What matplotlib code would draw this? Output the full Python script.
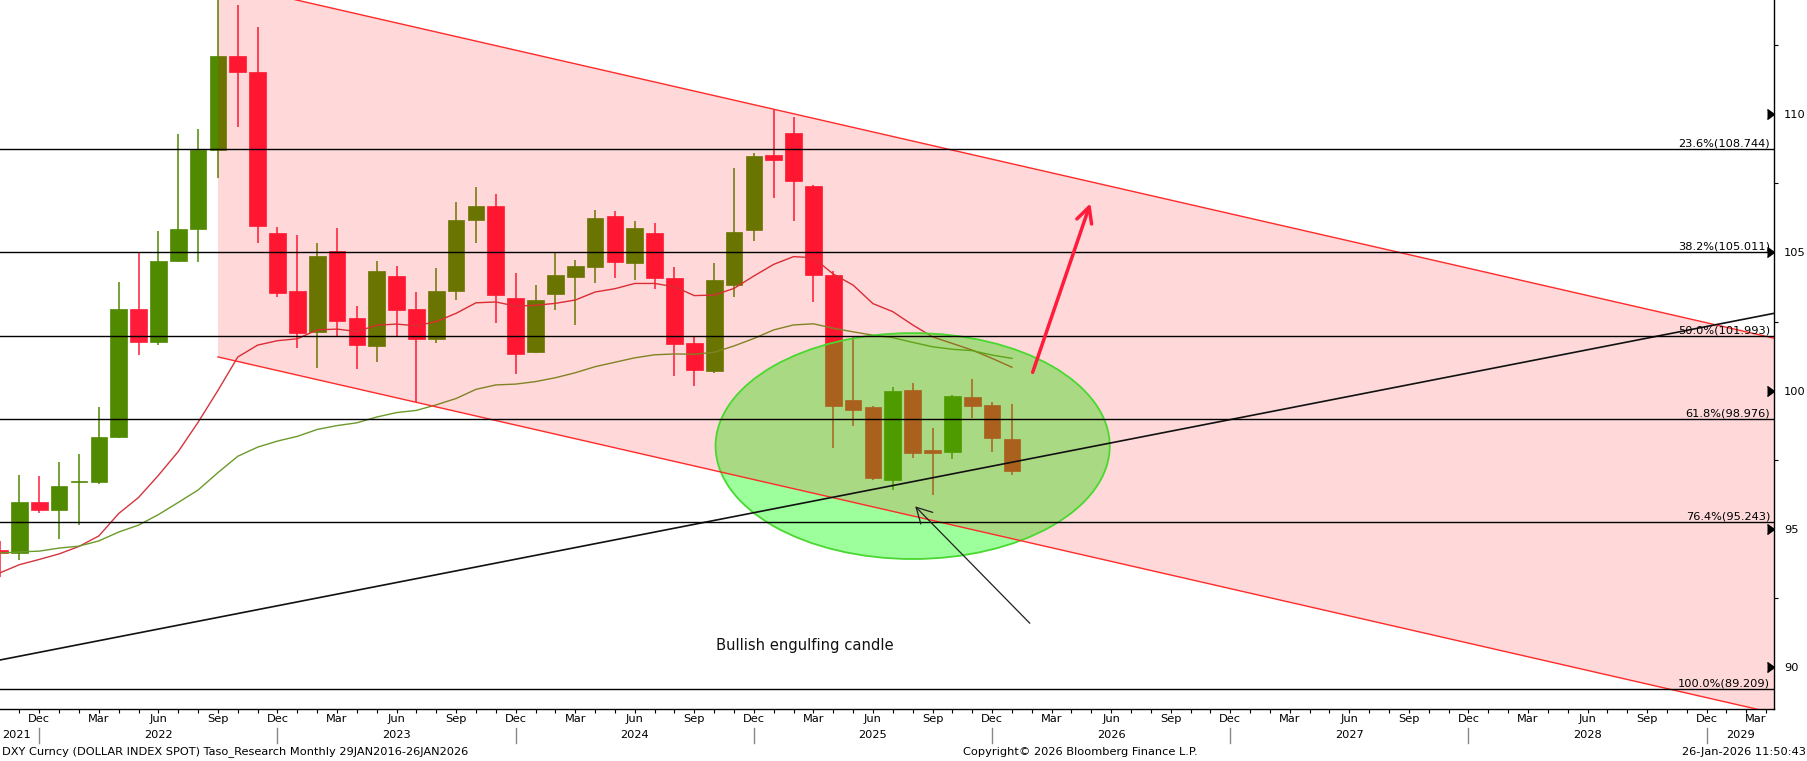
import matplotlib
matplotlib.use("Agg")
import matplotlib.pyplot as plt
from matplotlib import font_manager
from matplotlib.patches import Ellipse, Polygon
import numpy as np

# DXY monthly candles (Bloomberg), Oct 2021 - Jan 2026
months = ["2021-10", "2021-11", "2021-12",
          "2022-01", "2022-02", "2022-03", "2022-04", "2022-05", "2022-06",
          "2022-07", "2022-08", "2022-09", "2022-10", "2022-11", "2022-12",
          "2023-01", "2023-02", "2023-03", "2023-04", "2023-05", "2023-06",
          "2023-07", "2023-08", "2023-09", "2023-10", "2023-11", "2023-12",
          "2024-01", "2024-02", "2024-03", "2024-04", "2024-05", "2024-06",
          "2024-07", "2024-08", "2024-09", "2024-10", "2024-11", "2024-12",
          "2025-01", "2025-02", "2025-03", "2025-04", "2025-05", "2025-06",
          "2025-07", "2025-08", "2025-09", "2025-10", "2025-11", "2025-12",
          "2026-01"]
opens = [94.23, 94.12, 95.99,
         95.67, 96.70, 96.71, 98.31, 102.96, 101.76,
         104.69, 105.85, 108.70, 112.12, 111.53, 105.70,
         103.60, 102.12, 105.05, 102.63, 101.63, 104.15,
         102.95, 101.88, 103.62, 106.17, 106.68, 103.35,
         101.41, 103.50, 104.11, 104.47, 106.32, 104.62,
         105.70, 104.08, 101.72, 100.72, 103.82, 105.82,
         108.52, 109.33, 107.40, 104.18, 99.66, 99.41,
         96.78, 100.03, 97.86, 97.79, 99.76, 99.48,
         98.25]
highs = [94.56, 96.94, 96.91,
         97.44, 97.73, 99.42, 103.93, 105.01, 105.79,
         109.29, 109.48, 114.78, 113.95, 113.15, 105.92,
         105.63, 105.36, 105.88, 103.06, 104.70, 104.50,
         103.57, 104.44, 106.84, 107.35, 107.11, 104.26,
         103.82, 104.97, 104.73, 106.52, 106.49, 106.14,
         106.06, 104.47, 101.94, 104.63, 108.07, 108.58,
         110.18, 109.91, 107.45, 104.34, 101.98, 99.45,
         100.12, 100.27, 98.64, 99.84, 100.42, 99.59,
         99.52]
lows = [93.27, 93.87, 95.57,
        94.63, 95.14, 96.62, 98.28, 101.30, 101.64,
        104.64, 104.64, 107.68, 109.54, 105.34, 103.40,
        101.53, 100.82, 101.93, 100.79, 101.03, 101.93,
        99.58, 101.74, 103.27, 105.36, 102.46, 100.62,
        101.37, 102.92, 102.37, 103.91, 104.09, 104.00,
        103.67, 100.52, 100.16, 100.65, 103.40, 105.42,
        106.98, 106.15, 103.22, 97.94, 98.73, 96.78,
        96.42, 97.58, 96.24, 97.52, 99.02, 97.79,
        96.95]
closes = [94.12, 95.99, 95.67,
          96.54, 96.72, 98.31, 102.96, 101.76, 104.69,
          105.85, 108.70, 112.12, 111.53, 105.95, 103.52,
          102.10, 104.87, 102.51, 101.66, 104.33, 102.91,
          101.86, 103.62, 106.17, 106.68, 103.46, 101.34,
          103.28, 104.18, 104.51, 106.24, 104.65, 105.88,
          104.08, 101.70, 100.76, 104.00, 105.74, 108.49,
          108.34, 107.60, 104.18, 99.45, 99.30, 96.85,
          99.99, 97.76, 97.76, 99.81, 99.46, 98.30,
          97.11]
ma_fast = [93.41, 93.71, 93.90,
           94.10, 94.37, 94.75, 95.56, 96.14, 96.94,
           97.80, 98.86, 100.01, 101.22, 101.65, 101.81,
           101.88, 102.20, 102.23, 102.14, 102.37, 102.41,
           102.35, 102.50, 102.80, 103.18, 103.21, 103.06,
           103.09, 103.16, 103.28, 103.57, 103.69, 103.88,
           103.88, 103.76, 103.44, 103.46, 103.70, 104.15,
           104.57, 104.85, 104.81, 104.22, 103.82, 103.15,
           102.86, 102.38, 101.95, 101.71, 101.47, 101.17,
           100.85]
ma_slow = [94.13, 94.17, 94.20,
           94.31, 94.38, 94.57, 94.89, 95.14, 95.52,
           95.96, 96.41, 97.04, 97.63, 97.96, 98.18,
           98.35, 98.60, 98.74, 98.84, 99.05, 99.21,
           99.29, 99.49, 99.72, 100.05, 100.21, 100.24,
           100.33, 100.47, 100.65, 100.87, 101.03, 101.19,
           101.30, 101.33, 101.32, 101.39, 101.62, 101.89,
           102.20, 102.38, 102.42, 102.26, 102.13, 102.01,
           101.92, 101.75, 101.59, 101.50, 101.45, 101.29,
           101.17]

# Fibonacci retracement of the Sep-2022 high (114.778) to 89.209
fib_levels = [108.744, 105.011, 101.993, 98.976, 95.243, 89.209]
fib_labels = ["23.6%(108.744)", "38.2%(105.011)", "50.0%(101.993)",
              "61.8%(98.976)", "76.4%(95.243)", "100.0%(89.209)"]

# drawn objects (month index: Dec 2021 = 0)
chan_top = [(9, 114.78), (37, 110.18)]      # Sep-22 high -> Jan-25 high
chan_low_anchor = (19, 99.58)                # Jul-23 low
trend = [(-2, 90.26), (87.4, 102.80)]
circle_center, circle_w, circle_h = (44.0, 98.0), 19.86, 8.17
up_arrow = [(50.0, 100.57), (53.0, 106.87)]
note_arrow = [(50.0, 91.52), (44.03, 95.89)]
note_xy = (38.57, 90.80)

UP, DOWN = "#4f8a00", "#ff1c3a"

names = {f.name for f in font_manager.fontManager.ttflist}
if "Liberation Sans Narrow" in names:
    BB, BS = "Liberation Sans Narrow", 10.5
else:
    BB, BS = "DejaVu Sans", 8.2


def mx(s):
    y, m = s.split("-")
    return (int(y) - 2021) * 12 + int(m) - 12


fig = plt.figure(figsize=(18.08, 7.61), dpi=100)
ax = fig.add_axes([0, 1 - 709.3 / 761, 1774.3 / 1808, 709.3 / 761])
XMIN, XMAX = -1.98, 87.41
ax.set_xlim(XMIN, XMAX)
ax.set_ylim(88.48, 114.13)

# candles
x = np.array([mx(s) for s in months])
o, h, l, c = (np.array(v) for v in (opens, highs, lows, closes))
col = np.where(c >= o, UP, DOWN)
ax.vlines(x, l, h, colors=col, lw=1.1, zorder=2)
ax.bar(x, np.abs(c - o), bottom=np.minimum(o, c), width=0.84,
       color=col, edgecolor=col, linewidth=0.5, zorder=2)

# moving averages
ax.plot(x, ma_fast, color="#d5343e", lw=1.0, zorder=2.5)
ax.plot(x, ma_slow, color="#6c9a2a", lw=1.0, zorder=2.5)

# green circle (fill under the channel shading, rim on top)
ax.add_patch(Ellipse(circle_center, circle_w, circle_h, facecolor=(0, 1, 0, 0.39),
                     edgecolor="none", zorder=3))
ax.add_patch(Ellipse(circle_center, circle_w, circle_h, facecolor="none",
                     edgecolor="#48d830", lw=1.3, zorder=5))

# descending channel
slope = (chan_top[1][1] - chan_top[0][1]) / (chan_top[1][0] - chan_top[0][0])
x0 = chan_top[0][0]
gap = chan_top[0][1] + slope * (chan_low_anchor[0] - x0) - chan_low_anchor[1]
cx = np.array([x0, 95])
top = chan_top[0][1] + slope * (cx - x0)
low = top - gap
ax.add_patch(Polygon([(cx[0], low[0]), (cx[0], top[0]), (cx[1], top[1]), (cx[1], low[1])],
                     closed=True, facecolor=(1, 0, 0, 0.15), edgecolor="none", zorder=4))
ax.plot(cx, top, color="#ff2a2a", lw=1.0, zorder=5)
ax.plot(cx, low, color="#ff2a2a", lw=1.0, zorder=5)

# long trend line
tx = np.array([trend[0][0], trend[1][0]])
ty = np.array([trend[0][1], trend[1][1]])
ax.plot(tx, ty, color="#111111", lw=1.2, zorder=5)

# fibonacci lines
yt = ax.get_yaxis_transform()
for lv, lab in zip(fib_levels, fib_labels):
    ax.axhline(lv, color="black", lw=1.0, zorder=5)
    ax.annotate(lab, (0.9976, lv), xycoords=yt, xytext=(0, 0.4), textcoords="offset points",
                ha="right", va="bottom", fontsize=BS, family=BB, zorder=6)

# arrows and note
ax.annotate("", xy=up_arrow[1], xytext=up_arrow[0],
            arrowprops=dict(arrowstyle="->,head_length=0.55,head_width=0.28",
                            color=DOWN, lw=2.5, mutation_scale=20), zorder=6)
ax.annotate("", xy=note_arrow[1], xytext=note_arrow[0],
            arrowprops=dict(arrowstyle="->,head_length=0.55,head_width=0.3",
                            color="#202020", lw=0.9, mutation_scale=20), zorder=6)
ax.text(note_xy[0], note_xy[1], "Bullish engulfing candle", ha="center", va="center",
        fontsize=10.6, color="#111111", zorder=6)

# spines / axes
for s in ("left", "top"):
    ax.spines[s].set_visible(False)
ax.spines["right"].set_linewidth(1.0)
ax.spines["bottom"].set_linewidth(1.0)

yticks = [90, 95, 100, 105, 110]
ax.yaxis.tick_right()
ax.set_yticks(yticks)
ax.set_yticklabels([str(v) for v in yticks], family=BB, fontsize=BS)
ax.set_yticks(np.arange(90, 114, 2.5), minor=True)
ax.tick_params(axis="y", which="major", length=0, pad=7.0)
ax.tick_params(axis="y", which="minor", length=3, direction="out", width=0.8)
ax.plot(np.ones(len(yticks)), yticks, transform=yt, marker=5, ms=6.5, color="black",
        ls="none", clip_on=False, zorder=7)

mnames = ["Jan", "Feb", "Mar", "Apr", "May", "Jun", "Jul", "Aug", "Sep", "Oct", "Nov", "Dec"]
qx = list(range(0, 88, 3))
ax.set_xticks(qx)
ax.set_xticklabels([mnames[(11 + m) % 12] for m in qx], family=BB, fontsize=BS)
ax.set_xticks(range(-1, 88), minor=True)
ax.tick_params(axis="x", which="both", length=3, direction="out", width=0.8, pad=0.3)
ax.get_xticklabels()[-1].set_horizontalalignment("right")

xt = ax.get_xaxis_transform()
for m in range(0, 88, 12):
    ax.plot([m, m], [-0.0264, -0.0471], transform=xt, color="#888888", lw=1.0, clip_on=False)
ax.text(XMIN + 0.1, -0.0365, "2021", transform=xt, ha="left", va="center", family=BB, fontsize=BS)
for k, yr in enumerate(range(2022, 2029)):
    ax.text(6 + 12 * k, -0.0365, str(yr), transform=xt, ha="center", va="center",
            family=BB, fontsize=BS)
ax.text((84 + XMAX) / 2, -0.0365, "2029", transform=xt, ha="center", va="center",
        family=BB, fontsize=BS)

fy = 1 - 752 / 761
fig.text(2 / 1808, fy, "DXY Curncy (DOLLAR INDEX SPOT) Taso_Research Monthly 29JAN2016-26JAN2026",
         ha="left", va="center", family=BB, fontsize=BS)
fig.text(1080 / 1808, fy, "Copyright\u00a9 2026 Bloomberg Finance L.P.", ha="center", va="center",
         family=BB, fontsize=BS)
fig.text(1806 / 1808, fy, "26-Jan-2026 11:50:43", ha="right", va="center", family=BB, fontsize=BS)

fig.savefig("out.png", dpi=100)
